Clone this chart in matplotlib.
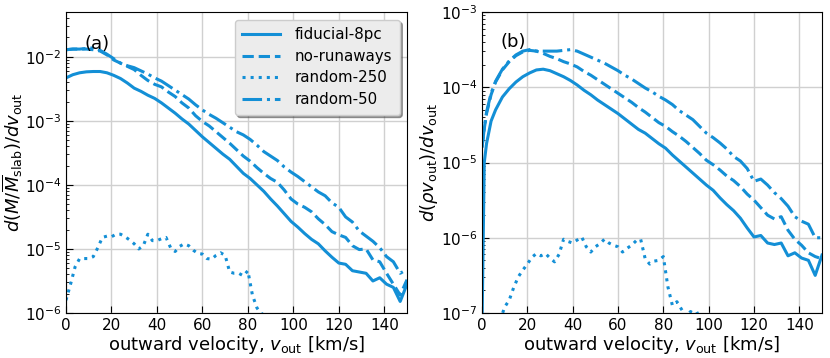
import numpy as np
import matplotlib
matplotlib.use('Agg')
import matplotlib.pyplot as plt

color = '#138fd6'

# ---- panel (a): mass distribution, log10 values ----
v_a = list(range(0, 151, 3))
fid_a = [-2.33, -2.28, -2.25, -2.235, -2.23, -2.23, -2.25, -2.29, -2.34, -2.41,
         -2.49, -2.54, -2.60, -2.65, -2.72, -2.80, -2.88, -2.97, -3.05, -3.15,
         -3.25, -3.34, -3.43, -3.52, -3.60, -3.71, -3.82, -3.90, -4.00, -4.10,
         -4.22, -4.33, -4.45, -4.57, -4.66, -4.76, -4.85, -4.92, -5.03, -5.13,
         -5.22, -5.24, -5.34, -5.36, -5.38, -5.50, -5.45, -5.55, -5.60, -5.82,
         -5.55]
norun_a = [-1.89, -1.88, -1.88, -1.88, -1.89, -1.91, -1.97, -2.05, -2.10, -2.15,
           -2.20, -2.29, -2.37, -2.43, -2.47, -2.55, -2.62, -2.72, -2.80, -2.92,
           -3.01, -3.08, -3.17, -3.26, -3.35, -3.45, -3.55, -3.63, -3.73, -3.82,
           -3.90, -3.96, -4.08, -4.22, -4.30, -4.35, -4.42, -4.53, -4.62, -4.73,
           -4.78, -4.82, -4.95, -5.01, -5.00, -5.17, -5.20, -5.38, -5.55, -5.72,
           -5.48]
r50_a = [-1.89, -1.88, -1.88, -1.87, -1.86, -1.90, -1.96, -2.03, -2.10, -2.14,
         -2.17, -2.22, -2.27, -2.33, -2.38, -2.45, -2.52, -2.59, -2.66, -2.75,
         -2.83, -2.90, -2.96, -3.03, -3.10, -3.17, -3.22, -3.29, -3.38, -3.48,
         -3.55, -3.62, -3.72, -3.80, -3.87, -3.95, -4.03, -4.11, -4.17, -4.28,
         -4.35, -4.50, -4.58, -4.72, -4.80, -4.88, -4.98, -5.12, -5.20, -5.38,
         -5.32]
v250_a = list(range(0, 91, 2))
r250_a = [-5.80, -5.55, -5.28, -5.15, -5.15, -5.15, -5.12, -4.98, -4.82, -4.80,
          -4.81, -4.77, -4.77, -4.81, -4.86, -4.92, -5.00, -4.95, -4.77, -4.87,
          -4.87, -4.84, -4.82, -4.98, -5.04, -4.96, -4.92, -4.95, -5.02, -5.07,
          -5.08, -5.15, -5.16, -5.10, -5.06, -5.10, -5.36, -5.38, -5.38, -5.42,
          -5.34, -5.72, -5.92, -6.02, -6.00, -6.30]

# ---- panel (b): momentum flux distribution, log10 values ----
v_b = [0, 1, 2, 4] + list(range(6, 151, 3))
fid_b = [-7.20, -5.00, -4.75, -4.45, -4.30, -4.13, -4.02, -3.93, -3.86, -3.81,
         -3.77, -3.76, -3.78, -3.82, -3.86, -3.91, -3.97, -4.04, -4.10, -4.17,
         -4.23, -4.29, -4.35, -4.42, -4.49, -4.56, -4.61, -4.68, -4.75, -4.81,
         -4.90, -4.98, -5.06, -5.14, -5.22, -5.30, -5.37, -5.47, -5.56, -5.64,
         -5.74, -5.87, -5.99, -5.97, -6.07, -6.09, -6.07, -6.24, -6.20, -6.27,
         -6.30, -6.50, -6.23]
norun_b = [-4.80, -4.55, -4.35, -4.10, -3.93, -3.77, -3.66, -3.58, -3.53, -3.51,
           -3.52, -3.55, -3.59, -3.62, -3.66, -3.69, -3.73, -3.79, -3.84, -3.90,
           -3.96, -4.02, -4.08, -4.14, -4.20, -4.27, -4.33, -4.40, -4.47, -4.52,
           -4.59, -4.65, -4.72, -4.80, -4.88, -4.97, -5.03, -5.10, -5.18, -5.24,
           -5.32, -5.42, -5.50, -5.60, -5.70, -5.75, -5.72, -5.90, -6.02, -6.10,
           -6.20, -6.25, -6.28]
r50_b = [-4.80, -4.55, -4.33, -4.08, -3.92, -3.76, -3.65, -3.57, -3.52, -3.50,
         -3.52, -3.52, -3.52, -3.52, -3.51, -3.50, -3.52, -3.56, -3.60, -3.64,
         -3.68, -3.73, -3.78, -3.84, -3.89, -3.95, -4.01, -4.06, -4.12, -4.17,
         -4.23, -4.31, -4.37, -4.43, -4.52, -4.61, -4.67, -4.74, -4.82, -4.92,
         -4.98, -5.08, -5.25, -5.22, -5.30, -5.40, -5.48, -5.58, -5.72, -5.78,
         -5.82, -6.00, -6.00]
v250_b = list(range(8, 99, 2))
r250_b = [-7.10, -6.92, -6.83, -6.66, -6.52, -6.43, -6.35, -6.26, -6.21, -6.24,
          -6.21, -6.27, -6.32, -6.22, -6.02, -6.05, -6.07, -6.03, -5.99, -6.12,
          -6.19, -6.12, -6.08, -6.02, -6.07, -6.10, -6.12, -6.19, -6.14, -6.10,
          -6.04, -6.02, -6.28, -6.35, -6.31, -6.30, -6.25, -6.65, -6.90, -6.85,
          -6.95, -7.05, -6.98, -7.02, -6.99, -7.10]

labels = ['fiducial-8pc', 'no-runaways', 'random-250', 'random-50']
styles = ['-', '--', ':', '-.']

fig = plt.figure(figsize=(8.3, 3.58), dpi=100)
ax1 = fig.add_axes([66 / 830, 45 / 358, 341 / 830, 301 / 358])
ax2 = fig.add_axes([482 / 830, 45 / 358, 340 / 830, 301 / 358])

panels = [
    (ax1, [(v_a, fid_a), (v_a, norun_a), (v250_a, r250_a), (v_a, r50_a)]),
    (ax2, [(v_b, fid_b), (v_b, norun_b), (v250_b, r250_b), (v_b, r50_b)]),
]
for ax, series in panels:
    for (x, y), ls, lab in zip(series, styles, labels):
        ax.plot(x, 10 ** np.array(y), ls=ls, color=color, lw=2.2, label=lab)
    ax.set_yscale('log')
    ax.set_xlim(0, 150)
    ax.set_xticks(range(0, 141, 20))
    ax.grid(True, color='#d0d0d0', lw=1)
    ax.tick_params(direction='in', which='both', labelsize=11)
    ax.tick_params(which='major', length=5)
    ax.tick_params(which='minor', length=2.5)
    ax.set_xlabel(r'outward velocity, $v_{\rm out}$ [km/s]', fontsize=13, labelpad=1)

ax1.set_ylim(1e-6, 5e-2)
ax2.set_ylim(1e-7, 1e-3)
ax1.set_ylabel(r'$d(M/\overline{M}_{\rm slab})/dv_{\rm out}$', fontsize=13)
ax2.set_ylabel(r'$d(\rho v_{\rm out})/dv_{\rm out}$', fontsize=13)
ax1.yaxis.set_label_coords(-0.12, 0.5)
ax2.yaxis.set_label_coords(-0.123, 0.5)
ax1.text(8, 1.3e-2, '(a)', fontsize=13)
ax2.text(8, 3.4e-4, '(b)', fontsize=13)

leg = ax1.legend(loc='upper right', fontsize=10.8, handlelength=2.5,
                 handletextpad=1.0, labelspacing=0.45, borderpad=0.5,
                 fancybox=True, shadow=True, framealpha=1)
leg.get_frame().set_facecolor('#ececec')
leg.get_frame().set_edgecolor('#cccccc')

fig.savefig('out.png', dpi=100)
